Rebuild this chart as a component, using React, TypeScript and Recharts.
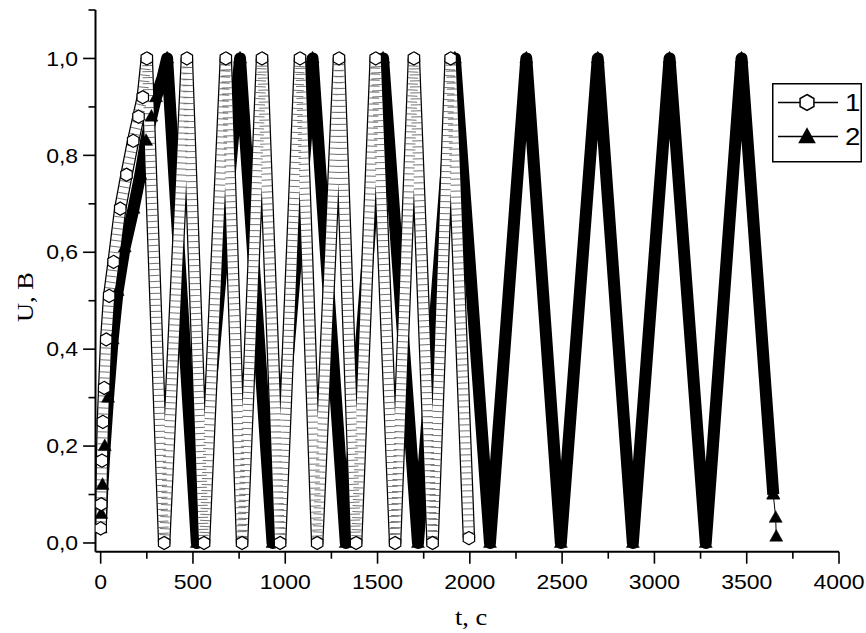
import React from "react";
import { LineChart, Line, XAxis, YAxis } from "recharts";

// series 1 (open hexagons): time, s
const hexT = [
  0, 3, 7, 12, 19, 30, 46, 70, 106, 140, 176, 205, 228, 250,
  344, 467, 560, 678, 766, 874, 972, 1080, 1173, 1291, 1384, 1490,
  1595, 1697, 1798, 1896, 1995,
];
// series 1: voltage, V
const hexU = [
  0.03, 0.08, 0.17, 0.25, 0.32, 0.42, 0.51, 0.58, 0.69, 0.76, 0.83, 0.88, 0.92, 1.0,
  0.0, 1.0, 0.0, 1.0, 0.0, 1.0, 0.0, 1.0, 0.0, 1.0, 0.0, 1.0,
  0.0, 1.0, 0.0, 1.0, 0.01,
];

// series 2 (filled triangles)
const triT = [
  0, 3, 10, 22, 40, 65, 92, 130, 178, 215, 246, 275, 300, 335, 360,
  521, 755, 931, 1148, 1328, 1530, 1719, 1919, 2109, 2306, 2493, 2693,
  2883, 3082, 3278, 3472, 3644,
];
const triU = [
  0.03, 0.06, 0.12, 0.2, 0.3, 0.42, 0.52, 0.61, 0.69, 0.76, 0.83, 0.88, 0.92, 0.96, 1.0,
  0.0, 1.0, 0.0, 1.0, 0.0, 1.0, 0.0, 1.0, 0.0, 1.0, 0.0, 1.0,
  0.0, 1.0, 0.0, 1.0, 0.1,
];
// last few separate points of series 2
const tailT = [3644, 3657, 3660];
const tailU = [0.1, 0.052, 0.013];

const xMajor = [0, 500, 1000, 1500, 2000, 2500, 3000, 3500, 4000];
const xMinor = [250, 750, 1250, 1750, 2250, 2750, 3250, 3750];
const yMajor = [0, 0.2, 0.4, 0.6, 0.8, 1.0];
const yMinor = [0.1, 0.3, 0.5, 0.7, 0.9, 1.1];

const hexData = hexT.map((t, i) => ({ t, u: hexU[i] }));
const triData = triT.map((t, i) => ({ t, u: triU[i] }));
const tailData = tailT.map((t, i) => ({ t, u: tailU[i] }));
const xTicks = [...xMajor, ...xMinor].sort((a, b) => a - b);
const yTicks = [...yMajor, ...yMinor].sort((a, b) => a - b);

const SANS = "'Liberation Sans', Arial, sans-serif";
const SERIF = "'Liberation Serif', 'Times New Roman', serif";

const hexPoints = (cx: number, cy: number, r: number) => {
  const pts: string[] = [];
  for (let k = 0; k < 6; k++) {
    const a = (Math.PI / 180) * (-90 + 60 * k);
    pts.push(`${cx + r * Math.cos(a)},${cy + r * Math.sin(a)}`);
  }
  return pts.join(" ");
};

const triPoints = (cx: number, cy: number, s: number) =>
  `${cx},${cy - s * 1.1} ${cx + s},${cy + s * 0.7} ${cx - s},${cy + s * 0.7}`;

const HexDot = (props: any) => {
  const { cx, cy, index } = props;
  if (cx == null || cy == null) return <g key={index} />;
  return (
    <polygon key={index} points={hexPoints(cx, cy, 6.6)} fill="#fff" stroke="#000" strokeWidth={1.2} />
  );
};

const TriDot = (props: any) => {
  const { cx, cy, index } = props;
  if (cx == null || cy == null) return <g key={index} />;
  return <polygon key={index} points={triPoints(cx, cy, 6.5)} fill="#000" stroke="#000" strokeWidth={0.5} />;
};

const XTick = (props: any) => {
  const { x, y, payload } = props;
  const v = payload.value as number;
  const major = v % 500 === 0;
  return (
    <g>
      <line x1={x} y1={y} x2={x} y2={y + (major ? 12 : 7)} stroke="#000" strokeWidth={1.6} />
      {major && (
        <text
          transform={`translate(${x},${y + 37.6}) scale(1.15,1)`}
          textAnchor="middle"
          fontFamily={SANS}
          fontSize={20}
          fill="#000"
        >
          {v}
        </text>
      )}
    </g>
  );
};

const YTick = (props: any) => {
  const { x, y, payload } = props;
  const v = payload.value as number;
  const major = Math.round(v * 10) % 2 === 0;
  return (
    <g>
      <line x1={x - (major ? 12.4 : 7)} y1={y} x2={x} y2={y} stroke="#000" strokeWidth={1.6} />
      {major && (
        <text
          transform={`translate(${x - 17.4},${y + 7.2}) scale(1.15,1)`}
          textAnchor="end"
          fontFamily={SANS}
          fontSize={20}
          fill="#000"
        >
          {v.toFixed(1).replace(".", ",")}
        </text>
      )}
    </g>
  );
};

const LegendBox = () => (
  <svg width={91} height={80} style={{ display: "block" }}>
    <rect x={0.75} y={0.75} width={88.5} height={78} fill="#fff" stroke="#000" strokeWidth={1.5} />
    <line x1={6} y1={19.5} x2={66} y2={19.5} stroke="#000" strokeWidth={1.5} />
    <polygon points={hexPoints(35, 19.5, 8)} fill="#fff" stroke="#000" strokeWidth={1.5} />
    <text transform="translate(73,28) scale(1.15,1)" fontFamily={SANS} fontSize={24} fill="#000">
      1
    </text>
    <line x1={6} y1={53.5} x2={66} y2={53.5} stroke="#000" strokeWidth={1.5} />
    <polygon points={triPoints(35, 54, 8.8)} fill="#000" />
    <text transform="translate(73,62) scale(1.15,1)" fontFamily={SANS} fontSize={24} fill="#000">
      2
    </text>
  </svg>
);

export default function App() {
  return (
    <div style={{ width: 858, height: 625, position: "absolute", left: 8, top: 8 }}>
      <LineChart width={858} height={625} margin={{ top: 2, right: 27, bottom: 0, left: 0 }}>
        <XAxis
          dataKey="t"
          type="number"
          domain={[-28, 4000]}
          ticks={xTicks}
          interval={0}
          allowDataOverflow
          height={81.3}
          tickSize={0}
          tickMargin={0}
          tickLine={false}
          tick={<XTick />}
          axisLine={{ stroke: "#000", strokeWidth: 2 }}
          label={{
            value: "t, c",
            content: () => (
              <text
                transform="translate(463,617) scale(1.1,1)"
                textAnchor="middle"
                fontFamily={SERIF}
                fontSize={24}
                fill="#000"
              >
                t, c
              </text>
            ),
          }}
        />
        <YAxis
          dataKey="u"
          type="number"
          domain={[-0.018, 1.1]}
          ticks={yTicks}
          interval={0}
          allowDataOverflow
          width={87.5}
          tickSize={0}
          tickMargin={0}
          tickLine={false}
          tick={<YTick />}
          axisLine={{ stroke: "#000", strokeWidth: 2 }}
          label={{
            value: "U, B",
            content: () => (
              <text
                transform="translate(25,289) rotate(-90) scale(1.1,1)"
                textAnchor="middle"
                fontFamily={SERIF}
                fontSize={24}
                fill="#000"
              >
                U, B
              </text>
            ),
          }}
        />

        {/* series 2: filled triangles */}
        <Line
          data={triData}
          dataKey="u"
          type="linear"
          stroke="#000"
          strokeWidth={12}
          strokeLinejoin="round"
          dot={<TriDot />}
          isAnimationActive={false}
        />
        <Line
          data={tailData}
          dataKey="u"
          type="linear"
          stroke="#000"
          strokeWidth={1}
          dot={<TriDot />}
          isAnimationActive={false}
        />

        {/* series 1: open hexagons */}
        <Line
          data={hexData}
          dataKey="u"
          type="linear"
          stroke="#000"
          strokeWidth={12.5}
          strokeLinejoin="round"
          dot={false}
          isAnimationActive={false}
        />
        <Line
          data={hexData}
          dataKey="u"
          type="linear"
          stroke="#fff"
          strokeWidth={10}
          strokeLinejoin="round"
          dot={false}
          isAnimationActive={false}
        />
        <Line
          data={hexData}
          dataKey="u"
          type="linear"
          stroke="#000"
          strokeOpacity={0.55}
          strokeWidth={10}
          strokeDasharray="1 5"
          dot={false}
          isAnimationActive={false}
        />
        <Line
          data={hexData}
          dataKey="u"
          type="linear"
          stroke="none"
          dot={<HexDot />}
          isAnimationActive={false}
        />
      </LineChart>
      <div style={{ position: "absolute", left: 763.7, top: 75.3 }}>
        <LegendBox />
      </div>
    </div>
  );
}
